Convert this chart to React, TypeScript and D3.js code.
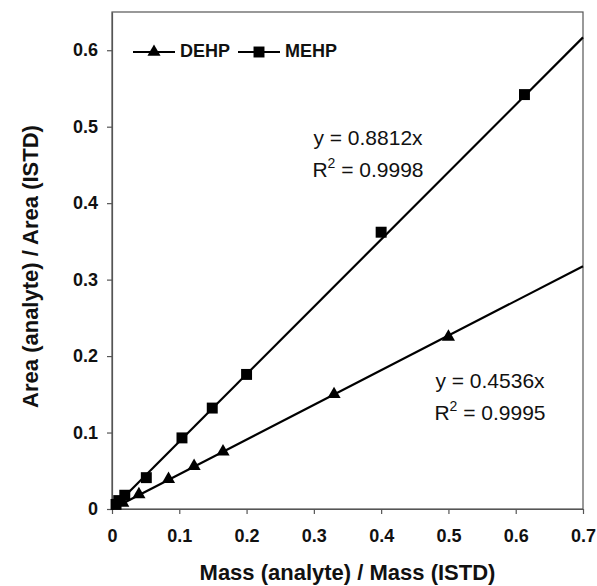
import React, { useEffect, useRef } from "react";
import { select, scaleLinear, axisBottom, axisLeft, line, symbol, symbolTriangle, symbolSquare } from "d3";

// DEHP (triangles)
const dehpX = [0.016, 0.04, 0.084, 0.122, 0.165, 0.33, 0.5];
const dehpY = [0.008, 0.019, 0.039, 0.056, 0.075, 0.15, 0.225];
// MEHP (squares)
const mehpX = [0.006, 0.01, 0.019, 0.051, 0.104, 0.149, 0.2, 0.4, 0.613];
const mehpY = [0.006, 0.011, 0.018, 0.041, 0.093, 0.132, 0.176, 0.362, 0.542];

const seriesNames = ["DEHP", "MEHP"];
const slopes = [0.4536, 0.8812];
const r2 = ["0.9995", "0.9998"];
const xTicks = [0, 0.1, 0.2, 0.3, 0.4, 0.5, 0.6, 0.7];
const yTicks = [0, 0.1, 0.2, 0.3, 0.4, 0.5, 0.6];

const W = 597;
const H = 586;
const m = { left: 112, right: 14, top: 12, bottom: 77 };
const font = "'Liberation Sans', Arial, sans-serif";

const App = () => {
  const svgRef = useRef<SVGSVGElement>(null);

  useEffect(() => {
    const svg = select(svgRef.current);
    svg.selectAll("*").remove();

    const xScale = scaleLinear().domain([0, 0.7]).range([m.left, W - m.right]);
    const yScale = scaleLinear().domain([0, 0.65]).range([H - m.bottom, m.top]);
    const fmt = (d: any) => (d === 0 ? "0" : (+d).toFixed(1));

    // frame
    svg.append("rect")
      .attr("x", xScale(0)).attr("y", yScale(0.65))
      .attr("width", xScale(0.7) - xScale(0)).attr("height", yScale(0) - yScale(0.65))
      .attr("fill", "none").attr("stroke", "#555").attr("stroke-width", 1.2);

    const xAxis = axisBottom(xScale).tickValues(xTicks).tickFormat(fmt).tickSize(5).tickSizeOuter(0).tickPadding(15);
    const gx = svg.append("g").attr("transform", `translate(0,${yScale(0)})`).call(xAxis);
    const yAxis = axisLeft(yScale).tickValues(yTicks).tickFormat(fmt).tickSize(5).tickSizeOuter(0).tickPadding(9);
    const gy = svg.append("g").attr("transform", `translate(${xScale(0)},0)`).call(yAxis);
    [gx, gy].forEach((g) => {
      g.select(".domain").attr("stroke", "#555").attr("stroke-width", 1.2);
      g.selectAll(".tick line").attr("stroke", "#555").attr("stroke-width", 1.2);
      g.selectAll(".tick text")
        .attr("fill", "#111")
        .style("font", `bold 18px ${font}`);
    });

    // regression lines
    const lineGen = line<number>().x((d) => xScale(d[0])).y((d) => yScale(d[1]));
    slopes.forEach((s) => {
      svg.append("path")
        .attr("d", lineGen([[0, 0], [0.7, 0.7 * s]] as any))
        .attr("fill", "none").attr("stroke", "#000").attr("stroke-width", 2.2);
    });

    const tri = symbol().type(symbolTriangle).size(75);
    const sq = symbol().type(symbolSquare).size(120);

    svg.append("g").selectAll("path")
      .data(dehpX)
      .join("path")
      .attr("d", tri as any)
      .attr("transform", (d, i) => `translate(${xScale(d)},${yScale(dehpY[i])})`)
      .attr("fill", "#000");

    svg.append("g").selectAll("path")
      .data(mehpX)
      .join("path")
      .attr("d", sq as any)
      .attr("transform", (d, i) => `translate(${xScale(d)},${yScale(mehpY[i])})`)
      .attr("fill", "#000");

    // legend
    const leg = svg.append("g").attr("transform", "translate(133,52)");
    const legItems = [
      { x: 0, shape: tri },
      { x: 105, shape: sq },
    ];
    legItems.forEach((it, i) => {
      leg.append("line").attr("x1", it.x).attr("x2", it.x + 42).attr("y1", 0).attr("y2", 0)
        .attr("stroke", "#000").attr("stroke-width", 2.2);
      leg.append("path").attr("d", it.shape as any)
        .attr("transform", `translate(${it.x + 21},0)`).attr("fill", "#000");
      leg.append("text").attr("x", it.x + 47).attr("y", 4.5)
        .style("font", `bold 18px ${font}`).attr("fill", "#111")
        .text(seriesNames[i]);
    });

    // equations
    const eqPos = [
      { x: 490, y: 388 },
      { x: 368, y: 145 },
    ];
    eqPos.forEach((p, i) => {
      svg.append("text").attr("x", p.x).attr("y", p.y).attr("text-anchor", "middle")
        .style("font", `21px ${font}`).attr("fill", "#111")
        .text(`y = ${slopes[i]}x`);
      const t = svg.append("text").attr("x", p.x).attr("y", p.y + 32).attr("text-anchor", "middle")
        .style("font", `21px ${font}`).attr("fill", "#111");
      t.append("tspan").text("R");
      t.append("tspan").attr("dy", -9).style("font-size", "14px").text("2");
      t.append("tspan").attr("dy", 9).text(` = ${r2[i]}`);
    });

    // axis titles
    svg.append("text").attr("x", (xScale(0) + xScale(0.7)) / 2).attr("y", 580)
      .attr("text-anchor", "middle").style("font", `bold 22px ${font}`).attr("fill", "#111")
      .text("Mass (analyte) / Mass (ISTD)");
    svg.append("text")
      .attr("transform", `translate(38,${(yScale(0) + yScale(0.65)) / 2 + 6}) rotate(-90)`)
      .attr("text-anchor", "middle").style("font", `bold 22px ${font}`).attr("fill", "#111")
      .text("Area (analyte) / Area (ISTD)");
  }, []);

  return (
    <svg
      ref={svgRef}
      width={W}
      height={H}
      style={{ position: "absolute", left: 0, top: 0, background: "#fff" }}
    />
  );
};

export default App;
